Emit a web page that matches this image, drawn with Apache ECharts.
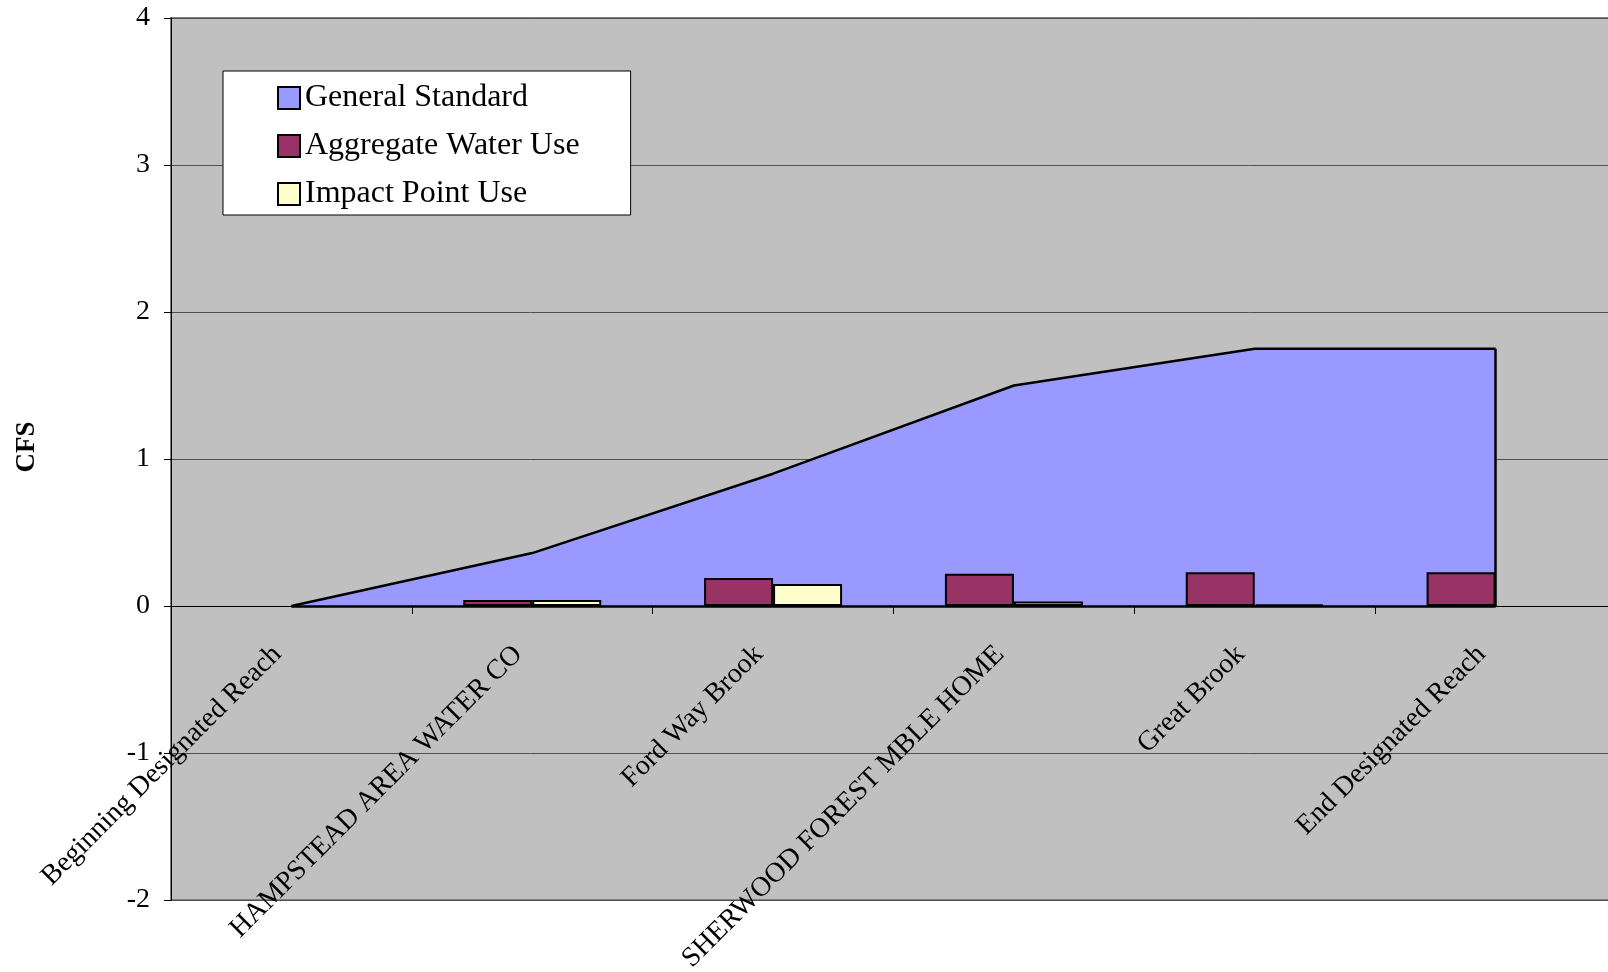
<!DOCTYPE html>
<html>
<head>
<meta charset="utf-8">
<script src="https://cdn.jsdelivr.net/npm/echarts@6/dist/echarts.min.js"></script>
<style>
html,body{margin:0;padding:0;background:#fff;}
#chart{width:1608px;height:972px;}
</style>
</head>
<body>
<div id="chart"></div>
<script>
const categories = ["Beginning Designated Reach","HAMPSTEAD AREA WATER CO","Ford Way Brook","SHERWOOD FOREST MBLE HOME","Great Brook","End Designated Reach"];
const generalStandard = [0, 0.36, 0.9, 1.5, 1.75, 1.75];
const aggregateWaterUse = [null, 0.04, 0.19, 0.22, 0.23, 0.23];
const impactPointUse = [null, 0.04, 0.15, 0.03, 0.01, null];
const yTicks = {min: -2, max: 4, interval: 1};

const FONT = "'Liberation Serif','Times New Roman',serif";
const lastIdx = categories.length - 1;

const GRID = {left: 171, top: 18, bottom: 72, right: -8};
const gridHeight = 972 - GRID.top - GRID.bottom;
// move the category axis up to the zero line of the value axis
const zeroOffset = -gridHeight * (0 - yTicks.min) / (yTicks.max - yTicks.min);

const chart = echarts.init(document.getElementById('chart'), null, {renderer: 'canvas'});
chart.setOption({
  backgroundColor: '#ffffff',
  animation: false,
  grid: Object.assign({}, GRID, {
    outerBoundsMode: 'none',
    containLabel: false,
    show: true, backgroundColor: '#C0C0C0', borderColor: '#808080', borderWidth: 2
  }),
  legend: {
    orient: 'vertical',
    left: 223, top: 71,
    icon: 'rect',
    itemWidth: 22, itemHeight: 22,
    itemGap: 16,
    padding: [11, 51, 5, 54],
    backgroundColor: '#ffffff',
    borderColor: '#000000', borderWidth: 1,
    itemStyle: {borderColor: '#000', borderWidth: 2},
    textStyle: {fontFamily: FONT, fontSize: 32, lineHeight: 32, color: '#000'},
    data: ['General Standard', 'Aggregate Water Use', 'Impact Point Use']
  },
  xAxis: {
    type: 'category',
    data: categories,
    boundaryGap: true,
    offset: zeroOffset,
    axisLine: {onZero: false, lineStyle: {color: '#000', width: 1}},
    axisTick: {show: true, interval: 0, length: 8, lineStyle: {color: '#000', width: 1}},
    axisLabel: {interval: 0, rotate: 45, margin: 30, padding: [0, 20, 0, 0], fontSize: 28, fontFamily: FONT, color: '#000'},
    splitLine: {show: false}
  },
  yAxis: {
    type: 'value',
    min: yTicks.min, max: yTicks.max, interval: yTicks.interval,
    name: 'CFS',
    nameLocation: 'middle',
    nameRotate: 90,
    nameGap: 130,
    nameTextStyle: {fontFamily: FONT, fontSize: 27, fontWeight: 'bold', color: '#000', padding: [0, 0, 0, 24]},
    axisLine: {show: true, lineStyle: {color: '#000', width: 1}},
    axisTick: {show: true, inside: false, length: 7, lineStyle: {color: '#000'}},
    axisLabel: {margin: 21, fontSize: 28, fontFamily: FONT, color: '#000'},
    splitLine: {show: true, lineStyle: {color: '#505050', width: 1}}
  },
  series: [
    {
      name: 'General Standard',
      type: 'line',
      data: generalStandard,
      symbol: 'none',
      z: 2,
      itemStyle: {color: '#9999FF'},
      lineStyle: {color: '#000', width: 2.5},
      areaStyle: {color: '#9999FF', opacity: 1},
      markLine: {
        silent: true,
        symbol: ['none', 'none'],
        label: {show: false},
        lineStyle: {color: '#000', width: 2.5, type: 'solid'},
        data: [
          [{coord: [categories[lastIdx], 0]}, {coord: [categories[lastIdx], generalStandard[lastIdx]]}],
          [{coord: [categories[0], 0]}, {coord: [categories[lastIdx], 0]}]
        ]
      }
    },
    {
      name: 'Aggregate Water Use',
      type: 'bar',
      data: aggregateWaterUse,
      z: 3,
      barGap: '0%',
      barCategoryGap: '42.7%',
      itemStyle: {color: '#993366', borderColor: '#000', borderWidth: 2}
    },
    {
      name: 'Impact Point Use',
      type: 'bar',
      data: impactPointUse,
      z: 3,
      barGap: '0%',
      barCategoryGap: '42.7%',
      itemStyle: {color: '#FFFFCC', borderColor: '#000', borderWidth: 2}
    }
  ]
});
</script>
</body>
</html>
